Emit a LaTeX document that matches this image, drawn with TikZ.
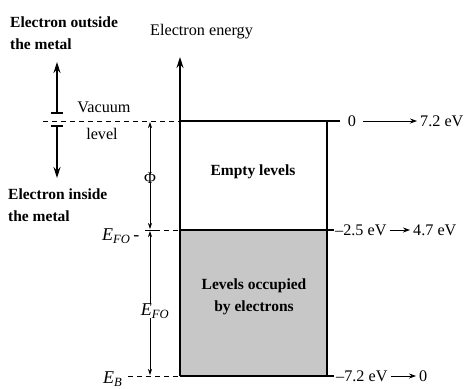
\documentclass[tikz,border=0pt]{standalone}
\usepackage{fontspec}
\setmainfont{Liberation Serif}
\usetikzlibrary{arrows.meta}
\begin{document}
\begin{tikzpicture}[x=1pt,y=-1pt,
  lbl/.style={font=\fontsize{16.2}{22}\selectfont, inner sep=0pt, align=center},
  blbl/.style={lbl, font=\fontsize{15.5}{22.5}\selectfont\bfseries},
  elbl/.style={lbl, font=\fontsize{18}{20}\selectfont\itshape},
  bigarrow/.style={line width=1.3pt, -{Stealth[length=11pt,width=7pt]}},
  smallarrow/.style={line width=0.7pt, -{Stealth[length=6pt,width=4pt]}},
  dashline/.style={line width=0.7pt, dash pattern=on 5pt off 4pt},
  boxline/.style={line width=1.5pt},
  ptr/.style={line width=0.8pt, -{Stealth[length=7pt,width=5pt]}}]
\useasboundingbox (0,0) rectangle (475,389);
% box corners
\coordinate (tl) at (180,121);
\coordinate (tr) at (327,121);
\coordinate (ml) at (180,230);
\coordinate (mr) at (327,230);
\coordinate (bl) at (180,376);
\coordinate (br) at (327,376);
\coordinate (axtop) at (180,57);
\fill[black!22] (ml) rectangle (br);
% box
\draw[boxline] (tl) -- (340,121);
\draw[boxline] (tr) -- (br);
\draw[boxline] (ml) -- (334,230);
\draw[boxline] (bl) -- (334,376);
\draw[bigarrow] (bl) -- (axtop);
\node[lbl, anchor=west] (energy) at (150,32) {Electron energy};
% box labels
\node[blbl] (empty) at (253,172) {Empty levels};
\node[blbl] (occ) at (254,297) {Levels occupied\\by electrons};
% right labels
\node[lbl] (z1) at (352,121) {0};
\node[lbl, anchor=west] (v1) at (420,121) {7.2 eV};
\draw[ptr] (z1.east) ++(7,0) coordinate (a1s) (a1s) -- ([xshift=-3pt]v1.west);
\node[lbl, anchor=west] (m25) at (335,230) {--2.5 eV};
\node[lbl, anchor=west] (v47) at (413,230) {4.7 eV};
\draw[ptr] (m25.east) ++(3,0) coordinate (a2s) (a2s) -- ([xshift=-3pt]v47.west);
\node[lbl, anchor=west] (m72) at (336,376) {--7.2 eV};
\node[lbl, anchor=west] (z2) at (419,376) {0};
\draw[ptr] (m72.east) ++(3,0) coordinate (a3s) (a3s) -- ([xshift=-3pt]z2.west);
% left dashed levels
\coordinate (vacL) at (43,121);
\coordinate (efoL) at (155,230);
\coordinate (ebL) at (128,376);
\draw[dashline] (vacL) -- (tl);
\draw[dashline] (efoL) -- (ml);
\draw[dashline] (ebL) -- (bl);
% vacuum level
\node[lbl] (vac) at (104,107) {Vacuum};
\node[lbl] (lev) at (102,134) {level};
% electron outside/inside arrows
\coordinate (upB) at (57,113);
\coordinate (upT) at (57,62);
\coordinate (dnT) at (57,126);
\coordinate (dnB) at (57,178);
\draw[bigarrow] (upB) -- (upT);
\draw[line width=1.3pt] (51,113) -- (63,113);
\draw[bigarrow] (dnT) -- (dnB);
\draw[line width=1.3pt] (51,126) -- (63,126);
\node[blbl, align=left, anchor=west] (outside) at (10,33) {Electron outside\\the metal};
\node[blbl, align=left, anchor=west] (inside) at (8,205) {Electron inside\\the metal};
% Phi arrow
\node[lbl] (phi) at (150,178) {Φ};
\coordinate (phT) at (150,122);
\coordinate (phB) at (150,229);
\draw[smallarrow] ([yshift=-2pt]phi.north) -- (phT);
\draw[smallarrow] ([yshift=2pt]phi.south) -- (phB);
\draw[line width=0.7pt] (145,230) -- (155,230);
% EFO arrow
\node[elbl] (efo) at (155,311) {E\textsubscript{FO}};
\coordinate (efT) at (150,231);
\coordinate (efB) at (150,375);
\draw[smallarrow] ([xshift=-5pt]efo.north) -- (efT);
\draw[smallarrow] ([xshift=-5pt]efo.south) -- (efB);
% left labels
\node[elbl, anchor=west] (efolbl) at (102,236) {E\textsubscript{FO}\,\upshape-};
\node[elbl, anchor=west] (eb) at (103,379) {E\textsubscript{B}};
\end{tikzpicture}
\end{document}
